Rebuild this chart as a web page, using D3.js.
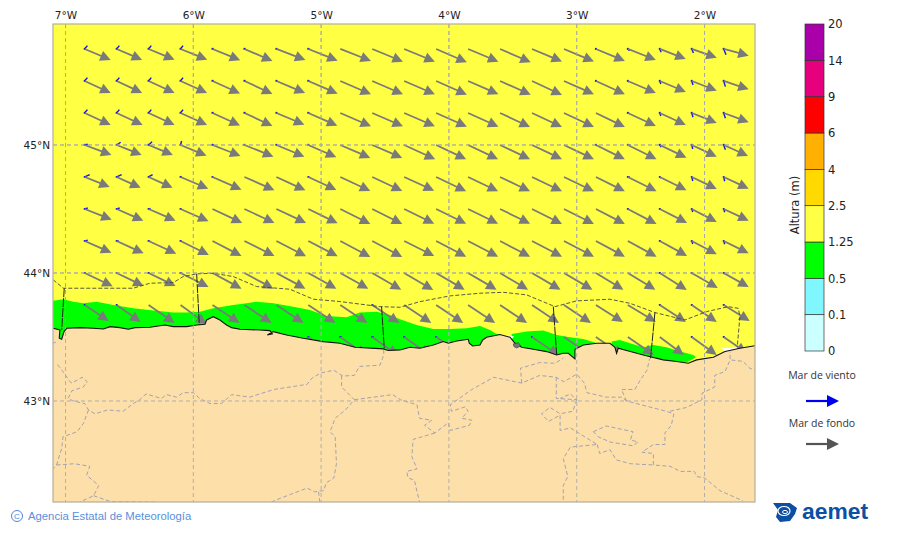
<!DOCTYPE html>
<html>
<head>
<meta charset="utf-8">
<script src="https://cdn.jsdelivr.net/npm/d3@7"></script>
<style>
	html, body { margin: 0; padding: 0; background: #fff; }
	svg { display: block; }
</style>
</head>
<body>
<div id="chart"></div>
<script>
// grid of the wave arrows
var lons = [-6.85,-6.6,-6.35,-6.1,-5.85,-5.6,-5.35,-5.1,-4.85,-4.6,-4.35,-4.1,-3.85,-3.6,-3.35,-3.1,-2.85,-2.6,-2.35,-2.1,-1.85];
var lats = [45.75,45.5,45.25,45,44.75,44.5,44.25,44,43.75,43.5];
var n = null;

// mar de fondo, east and south components per row
var swellU = [
	[2.6,2.55,2.6,2.67,2.77,2.8,2.9,2.93,3.07,3.07,3.07,3.07,3.03,3.07,3,3,2.9,2.8,2.6,2.5,2.5],
	[2.6,2.55,2.6,2.65,2.75,2.8,2.87,2.93,3.07,3.07,3.07,3.07,3.03,3.07,3,3,2.9,2.8,2.6,2.5,2.5],
	[2.6,2.6,2.6,2.65,2.75,2.8,2.8,2.9,3.07,3.07,3.07,3.07,3.03,3,3,3,2.9,2.8,2.6,2.5,2.5],
	[2.67,2.5,2.43,2.6,2.8,2.9,2.8,2.8,3,3,3.1,3,3,3,3,3,2.9,2.87,2.67,2.5,2.43],
	[2.5,2.4,2.4,2.77,2.9,3,2.9,2.8,3,3,3,3,3,3,3,3,2.9,2.87,2.67,2.5,2.5],
	[2.7,2.67,2.7,2.8,2.97,3,2.97,2.93,3,3,3,3,3,3,3,3,2.9,2.87,2.73,2.5,2.5],
	[2.67,2.7,2.77,2.83,2.9,3,2.97,2.93,3,3,3,3,3,3,3,3,2.9,2.87,2.73,2.5,2.5],
	[2.8,2.7,2.7,2.8,2.9,2.9,2.9,2.8,2.8,2.9,2.9,2.85,2.85,2.8,2.85,2.85,2.75,2.75,2.7,2.6,2.5],
	[2.4,2.4,2.6,2.6,2.7,2.7,2.7,2.7,2.7,2.7,2.7,2.7,2.7,2.7,2.7,2.7,2.7,2.8,2.6,2.5,2.6],
	[n,n,n,n,n,n,n,2.6,2.6,2.6,2.6,2.6,n,n,2.7,2.7,2.7,2.6,2.4,2.5,2.3]
];
var swellV = [
	[1.1,1.1,1.07,1.07,1.13,1.2,1.1,1.17,1.2,1.27,1.27,1.33,1.27,1.33,1.25,1.25,1.2,1.1,1,0.87,0.67],
	[1.2,1.2,1.2,1.2,1.25,1.3,1.2,1.27,1.33,1.33,1.33,1.37,1.33,1.37,1.4,1.33,1.33,1.2,1.1,0.97,0.83],
	[1.2,1.2,1.2,1.2,1.25,1.3,1.17,1.27,1.33,1.33,1.33,1.37,1.37,1.4,1.4,1.4,1.4,1.3,1.2,1,0.93],
	[1,1,1,1.07,1.1,1.17,1.17,1.23,1.3,1.3,1.43,1.43,1.43,1.43,1.43,1.43,1.43,1.43,1.27,1.17,1.1],
	[1,1.07,1.07,1.17,1.27,1.33,1.33,1.3,1.4,1.4,1.37,1.43,1.43,1.43,1.43,1.43,1.43,1.43,1.33,1.2,1.17],
	[1.07,1.17,1.17,1.23,1.4,1.4,1.4,1.43,1.5,1.5,1.47,1.47,1.47,1.47,1.5,1.5,1.5,1.5,1.4,1.3,1.17],
	[1.17,1.23,1.27,1.4,1.5,1.5,1.53,1.53,1.6,1.6,1.5,1.57,1.57,1.57,1.57,1.57,1.57,1.57,1.5,1.33,1.23],
	[1.33,1.3,1.3,1.4,1.57,1.57,1.57,1.57,1.57,1.67,1.7,1.67,1.67,1.67,1.67,1.67,1.67,1.67,1.7,1.5,1.4],
	[1.6,1.7,1.8,1.9,1.8,1.8,1.8,1.8,1.8,1.8,1.8,1.8,1.8,1.8,1.8,1.8,1.7,1.7,1.7,1.7,1.6],
	[n,n,n,n,n,n,n,1.85,1.85,1.85,1.85,1.85,n,n,1.85,1.85,1.85,1.8,1.8,1.8,1.6]
];

// mar de viento, same grid (mostly very small)
var windU = [
	[0.27,0.27,0.27,0.25,0.1,0.1,0.1,0.1,0,0,0,0,0,0,0,0,0.05,0.17,0.13,0.17,0.23],
	[0.27,0.27,0.27,0.25,0.1,0.1,0.1,0.1,0,0,0,0,0,0,0,0,0.1,0.13,0.1,0.13,0.17],
	[0.27,0.27,0.27,0.25,0.1,0.1,0.1,0.1,0,0,0,0,0,0,0,0,0,0.13,0.1,0.13,0.17],
	[0.3,0.4,0.35,0.1,0.07,0.05,0.05,0.05,0,0,0,0,0,0,0,0,0.05,0.27,0.13,0.1,0.17],
	[0.5,0.5,0.4,0.1,0.05,0,0,0.1,0,0,0,0,0,0,0,0,0,0.2,0.13,0.1,0.1],
	[0.3,0.3,0.2,0.1,0,0,0,0,0,0,0,0,0,0,0,0,0,0.1,0.1,0.1,0.1],
	[0.3,0.2,0.15,0.1,0,0,0,0,0,0,0,0,0,0,0,0,0,0,0.1,0.1,0.1],
	[0.1,0.1,0.1,0.1,0,0,0,0,0,0,0,0,0,0,0,0,0,0,0.1,0.1,0.15],
	[0.1,0.1,0,0,0,0,0,0,0,0.1,0,0,0,0,0,0,0,0,0.1,0.1,0.1],
	[0,0,0,0,0,0,0,0.1,0.15,0.15,0.1,0.1,0,0,0.05,0,0,0,0,0.1,0.1]
];
var windV = [
	[-0.33,-0.33,-0.33,-0.33,-0.05,-0.05,0,0,0,0,0,0,0,0,0,0,0.03,0.17,0.33,0.4,0.57],
	[-0.33,-0.33,-0.33,-0.33,-0.05,-0.05,0,0,0,0,0,0,0,0,0,0,0.03,0.1,0.3,0.4,0.57],
	[-0.33,-0.33,-0.33,-0.33,-0.05,-0.05,0,0,0,0,0,0,0,0,0,0,0,0.03,0.3,0.43,0.53],
	[-0.07,-0.27,-0.33,-0.4,-0.07,0,0,0,0,0,0,0,0,0,0,0,0,0.03,0.23,0.4,0.47],
	[-0.23,-0.23,-0.23,-0.05,0,0,0,0,0,0,0,0,0,0,0,0,0,0,0.1,0.4,0.43],
	[-0.1,-0.1,-0.05,0,0,0,0,0,0,0,0,0,0,0,0,0,0,0,0.05,0.3,0.33],
	[-0.07,-0.03,0,0,0,0,0,0,0,0,0,0,0,0,0,0,0,0,0.03,0.3,0.33],
	[0,0,0,0,0,0,0,0,0,0,0,0,0,0,0,0,0,0,0,0.1,0.1],
	[0,0,0,0,0,0,0,0,0,0,0,0,0,0,0,0,0,0,0,0,0],
	[0,0,0,0,0,0,0,0,0,0,0,0,0,0,0,0,0,0,0,0,0]
];

// colour bar
var levelLabels = ["0","0.1","0.5","1.25","2.5","4","6","9","14","20"];
var levelColors = ["#ccffff","#80f6ff","#00ff00","#ffff44","#ffd900","#ffb000","#ff0000","#e6007e","#aa00aa"];

var lonTicks = [-7,-6,-5,-4,-3,-2];
var latTicks = [45,44,43];

// coast, west to east
var coast = [[-7.098,43.568],[-7.044,43.555],[-7.049,43.49],[-7.03,43.482],[-7.012,43.542],[-6.991,43.568],[-6.887,43.573],[-6.783,43.568],[-6.704,43.563],[-6.652,43.581],[-6.574,43.573],[-6.509,43.56],[-6.457,43.573],[-6.339,43.576],[-6.222,43.594],[-6.157,43.581],[-6.052,43.581],[-5.974,43.594],[-5.909,43.599],[-5.896,43.633],[-5.844,43.659],[-5.792,43.633],[-5.74,43.594],[-5.7,43.573],[-5.635,43.56],[-5.479,43.555],[-5.401,43.55],[-5.382,43.524],[-5.421,43.516],[-5.374,43.542],[-5.27,43.516],[-5.14,43.49],[-4.983,43.464],[-4.853,43.451],[-4.735,43.42],[-4.514,43.407],[-4.475,43.394],[-4.383,43.399],[-4.305,43.42],[-4.227,43.412],[-4.122,43.438],[-4.044,43.464],[-4.005,43.451],[-3.94,43.469],[-3.848,43.482],[-3.841,43.451],[-3.814,43.43],[-3.757,43.438],[-3.736,43.477],[-3.705,43.498],[-3.601,43.519],[-3.522,43.498],[-3.483,43.451],[-3.431,43.42],[-3.34,43.404],[-3.235,43.386],[-3.157,43.36],[-3.105,43.373],[-3.066,43.373],[-3.014,43.329],[-3.014,43.404],[-2.949,43.438],[-2.844,43.451],[-2.74,43.451],[-2.701,43.42],[-2.688,43.373],[-2.675,43.412],[-2.61,43.394],[-2.479,43.36],[-2.323,43.321],[-2.219,43.308],[-2.127,43.295],[-2.062,43.321],[-1.931,43.342],[-1.84,43.386],[-1.723,43.412],[-1.618,43.43],[-1.605,43.432]];
var landCorners = [[-1.605,42.211],[-7.098,42.211]];

// 0.5 - 1.25 m patches along the coast
var greenWest = [[-7.098,43.784],[-7.017,43.795],[-6.939,43.776],[-6.861,43.763],[-6.757,43.776],[-6.626,43.75],[-6.47,43.724],[-6.313,43.706],[-6.157,43.691],[-6.052,43.691],[-5.948,43.698],[-5.844,43.724],[-5.687,43.75],[-5.583,43.763],[-5.505,43.776],[-5.374,43.763],[-5.218,43.737],[-5.088,43.711],[-4.957,43.664],[-4.801,43.654],[-4.696,43.691],[-4.566,43.698],[-4.462,43.672],[-4.383,43.638],[-4.253,43.594],[-4.122,43.563],[-3.992,43.563],[-3.861,43.568],[-3.757,43.586],[-3.679,43.555],[-3.627,43.524],[-3.601,43.519],[-3.62,43.35],[-7.098,43.35]];
var greenMid = [[-3.509,43.524],[-3.392,43.542],[-3.262,43.55],[-3.157,43.516],[-3.053,43.498],[-2.949,43.485],[-2.857,43.456],[-2.857,43.3],[-3.509,43.3]];
var greenEast = [[-2.727,43.464],[-2.662,43.477],[-2.583,43.451],[-2.479,43.42],[-2.401,43.438],[-2.297,43.42],[-2.219,43.394],[-2.088,43.36],[-2.067,43.342],[-2.14,43.3],[-2.727,43.3]];

// small spots without data
var gapA = [[-1.866,43.412],[-1.723,43.42],[-1.697,43.399],[-1.84,43.386]];
var gapB = [[-3.548,43.516],[-3.491,43.503],[-3.509,43.482]];
var ria = [[-3.496,43.446],[-3.457,43.456],[-3.439,43.43],[-3.47,43.414],[-3.491,43.425]];

// coastal zones, black dashes
var zoneOuter = [[-7.096,43.946],[-7.017,43.881],[-6.47,43.881],[-6.339,43.92],[-6.157,43.925],[-6.079,43.972],[-5.974,43.993],[-5.844,43.998],[-5.687,43.972],[-5.505,43.894],[-5.244,43.873],[-5.061,43.795],[-4.853,43.777],[-4.54,43.737],[-4.383,43.732],[-4.227,43.776],[-3.992,43.821],[-3.757,43.842],[-3.575,43.849],[-3.392,43.829],[-3.17,43.737],[-3.001,43.782],[-2.74,43.795],[-2.583,43.763],[-2.388,43.691],[-2.153,43.633],[-1.984,43.698],[-1.814,43.737],[-1.736,43.724],[-1.723,43.659],[-1.744,43.42]];
var zoneLimits = [
	[[-7.01,43.881],[-7.03,43.555]],
	[[-5.974,43.993],[-5.953,43.594]],
	[[-4.527,43.737],[-4.506,43.412]],
	[[-3.183,43.737],[-3.157,43.36]],
	[[-2.388,43.691],[-2.422,43.334]]
];

// province limits, grey dashes
var provinces = [
	[[-4.51,43.4],[-4.51,43.36],[-4.54,43.28],[-4.7,43.27],[-4.74,43.2],[-4.83,43.195],[-4.9,43.24],[-5,43.22],[-5.07,43.18],[-5.11,43.13],[-5.37,43.09],[-5.56,43.03],[-5.7,43.05],[-5.78,42.98],[-5.87,42.98],[-5.95,43.02],[-6,43.065],[-6.08,43.065],[-6.13,43.03],[-6.21,43.05],[-6.25,43.02],[-6.37,43.055],[-6.42,43.01],[-6.47,42.98],[-6.55,42.92],[-6.67,42.93],[-6.77,42.9],[-6.82,42.93],[-6.85,42.98],[-6.94,43],[-6.98,43.02],[-6.95,43.08],[-6.86,43.11],[-6.83,43.15],[-6.87,43.185],[-6.95,43.14],[-6.965,43.15],[-7.02,43.23],[-7.07,43.295]],
	[[-7.1,43.45],[-7.075,43.46]],
	[[-6.82,42.93],[-6.86,42.825],[-6.91,42.76],[-7.02,42.72],[-7.03,42.63],[-7.07,42.5],[-7.096,42.47]],
	[[-7.07,42.5],[-6.93,42.51],[-6.81,42.49],[-6.835,42.42],[-6.74,42.34],[-6.78,42.26],[-6.89,42.21]],
	[[-6.78,42.26],[-6.65,42.215],[-6.3,42.21]],
	[[-5.39,42.21],[-5.32,42.24],[-5.24,42.27],[-5.11,42.32],[-5.05,42.29],[-4.98,42.3],[-4.96,42.36],[-4.9,42.4],[-4.88,42.51],[-4.89,42.72],[-4.93,42.76],[-4.89,42.865],[-4.81,42.93],[-4.74,43.01],[-4.84,43.11],[-4.84,43.2]],
	[[-5.01,42.21],[-5.02,42.29]],
	[[-4.74,43.01],[-4.59,43.03],[-4.44,43.05],[-4.38,43.01],[-4.25,42.97],[-4.23,42.865],[-4.135,42.85],[-4.19,42.81],[-4.11,42.75],[-4.005,42.83],[-3.99,42.77],[-3.84,42.81],[-3.82,42.85],[-3.9,42.865],[-3.85,42.92],[-3.87,42.955],[-3.98,42.92],[-3.99,42.97],[-3.82,43.09],[-3.65,43.185],[-3.43,43.14],[-3.29,43.2],[-3.16,43.185],[-3.1,43.15],[-3,43.21],[-2.94,43.14],[-2.92,43.065],[-2.77,43.03],[-2.65,43.03],[-2.61,43],[-2.3,42.92],[-2.24,42.9],[-2.26,42.81],[-2.31,42.75],[-2.31,42.66],[-2.4,42.66],[-2.49,42.6],[-2.4,42.59],[-2.4,42.5],[-2.27,42.49],[-2.19,42.45],[-2.08,42.45],[-2.06,42.41],[-2,42.4],[-1.88,42.3],[-1.7,42.22]],
	[[-4.11,42.75],[-4.28,42.7],[-4.29,42.565],[-4.25,42.47],[-4.33,42.45],[-4.32,42.4],[-4.27,42.38],[-4.23,42.21]],
	[[-2.61,43],[-2.65,43.09],[-2.545,43.09],[-2.505,43.16],[-2.45,43.24],[-2.43,43.33]],
	[[-2.27,42.92],[-2.14,42.95],[-2.02,43.01],[-2.02,43.06],[-1.92,43.11],[-1.92,43.2],[-1.84,43.23],[-1.8,43.32],[-1.8,43.386]],
	[[-1.79,43.32],[-1.7,43.31],[-1.645,43.256],[-1.6,43.24]],
	[[-3.43,43.14],[-3.44,43.256],[-3.29,43.3],[-3.17,43.295],[-3.105,43.334]],
	[[-3.16,43.185],[-3.16,43.02],[-3,43.01],[-3.05,43.055],[-3.13,43.02]],
	[[-3,43.01],[-3.03,42.92],[-3.13,42.9],[-3.21,42.95],[-3.275,42.9],[-3.22,42.84],[-3.13,42.89],[-3.13,42.77],[-3.05,42.79],[-2.84,42.66],[-3.05,42.64],[-3.105,42.55],[-3.07,42.41],[-3.105,42.34],[-3.105,42.21]],
	[[-2.84,42.66],[-2.82,42.59],[-2.74,42.62],[-2.69,42.54],[-2.58,42.51],[-2.4,42.5]],
	[[-2.87,42.76],[-2.77,42.805],[-2.56,42.76],[-2.58,42.695],[-2.52,42.68],[-2.56,42.65],[-2.74,42.68],[-2.83,42.72],[-2.87,42.76]]
];

var plot = {left: 53, right: 755, top: 24, bottom: 502};
var svg = d3.select("#chart").append("svg").attr("width", 900).attr("height", 533);

var x = d3.scaleLinear().domain([-7.098, -1.605]).range([plot.left, plot.right]);
var y = d3.scaleLinear().domain([42.211, 45.945]).range([plot.bottom, plot.top]);
var arrowLen = d3.scaleLinear().domain([0, 1]).range([0, 10]);
var geoLine = d3.line().x(function(d) { return x(d[0]); }).y(function(d) { return y(d[1]); });

svg.append("clipPath").attr("id", "map-clip").append("rect")
	.attr("x", plot.left).attr("y", plot.top)
	.attr("width", plot.right - plot.left).attr("height", plot.bottom - plot.top);

var map = svg.append("g").attr("clip-path", "url(#map-clip)");

map.append("rect")
	.attr("x", plot.left).attr("y", plot.top)
	.attr("width", plot.right - plot.left).attr("height", plot.bottom - plot.top)
	.attr("fill", levelColors[3]);

[greenWest, greenMid, greenEast].forEach(function(p) {
	map.append("path").attr("d", geoLine(p) + "Z").attr("fill", levelColors[2]);
});
[gapA, gapB].forEach(function(p) {
	map.append("path").attr("d", geoLine(p) + "Z").attr("fill", "#fff");
});

// graticule stays under the arrows
var graticule = map.append("g");
graticule.selectAll(".glat").data(latTicks).enter().append("line").attr("class", "glat")
	.attr("y1", y).attr("y2", y).attr("x1", plot.left).attr("x2", plot.right);

// flat list of grid cells for the arrows
var cells = [];
lats.forEach(function(lat, r) {
	lons.forEach(function(lon, c) {
		cells.push({lon: lon, lat: lat, su: swellU[r][c], sv: swellV[r][c], wu: windU[r][c], wv: windV[r][c]});
	});
});

var grey = "#7a7a7a", blue = "#1414e6";

function drawArrow(g, len, color, width, head) {
	g.append("line").attr("x1", 0).attr("y1", 0).attr("x2", len - head + 1).attr("y2", 0)
		.attr("stroke", color).attr("stroke-width", width);
	g.append("path")
		.attr("d", "M" + len + ",0L" + (len - head) + "," + (-head / 2) + "L" + (len - head) + "," + (head / 2) + "Z")
		.attr("fill", color);
}

var windMarks = map.append("g").selectAll("g")
	.data(cells.filter(function(d) { return d.wu || d.wv; }))
	.enter().append("g")
	.attr("transform", function(d) { return "translate(" + x(d.lon) + "," + y(d.lat) + ")"; });
windMarks.append("line")
	.attr("x2", function(d) { return arrowLen(d.wu); })
	.attr("y2", function(d) { return arrowLen(d.wv); })
	.attr("stroke", blue).attr("stroke-width", 1.4);
windMarks.append("circle").attr("r", 1.1).attr("fill", blue);

map.append("g").selectAll("g")
	.data(cells.filter(function(d) { return d.su !== null; }))
	.enter().append("g")
	.attr("transform", function(d) {
		var a = Math.atan2(arrowLen(d.sv), arrowLen(d.su)) * 180 / Math.PI;
		return "translate(" + x(d.lon) + "," + y(d.lat) + ") rotate(" + a + ")";
	})
	.each(function(d) {
		drawArrow(d3.select(this), Math.hypot(arrowLen(d.su), arrowLen(d.sv)), grey, 1.8, 10.5);
	});

// land goes over the arrows
map.append("path").attr("d", geoLine(coast.concat(landCorners)) + "Z").attr("fill", "#fddfa9");
map.append("path").attr("d", geoLine(coast)).attr("fill", "none").attr("stroke", "#111").attr("stroke-width", 1.1);
map.append("path").attr("d", geoLine(ria) + "Z").attr("fill", "#777").attr("stroke", "#333").attr("stroke-width", 0.6);

map.selectAll(".prov").data(provinces).enter().append("path").attr("class", "prov")
	.attr("d", geoLine).attr("fill", "none")
	.attr("stroke", "#9a9ab0").attr("stroke-width", 0.9).attr("stroke-dasharray", "4,2.5");

map.append("path").attr("d", geoLine(zoneOuter)).attr("fill", "none")
	.attr("stroke", "#444").attr("stroke-width", 0.9).attr("stroke-dasharray", "4,2");
map.selectAll(".zone").data(zoneLimits).enter().append("path").attr("class", "zone")
	.attr("d", geoLine).attr("fill", "none")
	.attr("stroke", "#222").attr("stroke-width", 1).attr("stroke-dasharray", "9,1");

graticule.selectAll(".glon").data(lonTicks).enter().append("line").attr("class", "glon")
	.attr("x1", x).attr("x2", x).attr("y1", plot.top).attr("y2", plot.bottom);
graticule.selectAll("line").attr("stroke", "#aaa").attr("stroke-width", 0.9).attr("stroke-dasharray", "4,3");

// the same lines again over the land, where they are seen most
map.append("g").selectAll("line").data(latTicks).enter().append("line")
	.attr("y1", y).attr("y2", y).attr("x1", plot.left).attr("x2", plot.right)
	.attr("stroke", "#aaa").attr("stroke-width", 0.9).attr("stroke-dasharray", "4,3");
map.append("g").selectAll("line").data(lonTicks).enter().append("line")
	.attr("x1", x).attr("x2", x).attr("y1", plot.top).attr("y2", plot.bottom)
	.attr("stroke", "#aaa").attr("stroke-width", 0.9).attr("stroke-dasharray", "4,3");

svg.append("rect")
	.attr("x", plot.left).attr("y", plot.top)
	.attr("width", plot.right - plot.left).attr("height", plot.bottom - plot.top)
	.attr("fill", "none").attr("stroke", "#b5b09a").attr("stroke-width", 1.2);

// axes
var topAxis = d3.axisTop(x).tickValues(lonTicks).tickSize(0).tickPadding(5)
	.tickFormat(function(d) { return Math.abs(d) + "°W"; });
var leftAxis = d3.axisLeft(y).tickValues(latTicks).tickSize(0).tickPadding(3)
	.tickFormat(function(d) { return d + "°N"; });
svg.append("g").attr("transform", "translate(0," + plot.top + ")").call(topAxis);
svg.append("g").attr("transform", "translate(" + plot.left + ",0)").call(leftAxis);
svg.selectAll(".domain").remove();
svg.selectAll(".tick text").attr("font-family", "DejaVu Sans").attr("font-size", 10.5).attr("fill", "#222");

// colour bar
var barY = d3.scaleLinear().domain([0, levelColors.length]).range([351, 24]);
var barX = 805, barW = 19;
svg.append("g").selectAll("rect").data(levelColors).enter().append("rect")
	.attr("x", barX).attr("width", barW)
	.attr("y", function(d, i) { return barY(i + 1); })
	.attr("height", function(d, i) { return barY(i) - barY(i + 1); })
	.attr("fill", function(d) { return d; })
	.attr("stroke", "#333").attr("stroke-width", 0.7);
var barAxis = d3.axisRight(barY).tickValues(d3.range(levelLabels.length)).tickSize(0).tickPadding(4)
	.tickFormat(function(d) { return levelLabels[d]; });
var barG = svg.append("g").attr("transform", "translate(" + (barX + barW) + ",0)").call(barAxis);
barG.select(".domain").remove();
barG.selectAll("text").attr("font-family", "DejaVu Sans").attr("font-size", 11.5).attr("fill", "#222");

svg.append("text").attr("transform", "translate(799,205) rotate(-90)")
	.attr("text-anchor", "middle").attr("font-family", "DejaVu Sans").attr("font-size", 11.5).attr("fill", "#222")
	.text("Altura (m)");

// arrow legend
var legendLabels = ["Mar de viento", "Mar de fondo"];
var legendColors = ["#0000f0", "#555555"];
var legendLabelY = d3.scaleOrdinal().domain(legendLabels).range([379, 427]);
var legendArrowY = d3.scaleOrdinal().domain(legendLabels).range([401, 444]);
legendLabels.forEach(function(name, i) {
	svg.append("text").attr("x", 822).attr("y", legendLabelY(name)).attr("text-anchor", "middle")
		.attr("font-family", "Open Sans").attr("font-size", 10.5).attr("fill", "#333").text(name);
	drawArrow(svg.append("g").attr("transform", "translate(806," + legendArrowY(name) + ")"), 33, legendColors[i], 2.2, 12);
});

// footer
svg.append("circle").attr("cx", 17).attr("cy", 516).attr("r", 5.5)
	.attr("fill", "none").attr("stroke", "#4f86d8").attr("stroke-width", 1);
svg.append("text").attr("x", 17).attr("y", 519).attr("text-anchor", "middle")
	.attr("font-family", "Liberation Sans").attr("font-size", 8).attr("fill", "#4f86d8").text("C");
svg.append("text").attr("x", 28).attr("y", 520)
	.attr("font-family", "Liberation Sans").attr("font-size", 11.3).attr("fill", "#5b8fdc")
	.text("Agencia Estatal de Meteorología");

var logo = svg.append("g");
logo.append("path").attr("d", "M773,503L790,503L797,508L795,514L790,521L780,522L776,517L778,510Z").attr("fill", "#0d4fa3");
logo.append("ellipse").attr("cx", 784).attr("cy", 511).attr("rx", 6).attr("ry", 4.5)
	.attr("fill", "none").attr("stroke", "#fff").attr("stroke-width", 1.2);
logo.append("ellipse").attr("cx", 785).attr("cy", 512).attr("rx", 2.5).attr("ry", 1.6)
	.attr("fill", "none").attr("stroke", "#fff").attr("stroke-width", 1);
svg.append("text").attr("x", 802).attr("y", 519).attr("textLength", 66).attr("lengthAdjust", "spacingAndGlyphs")
	.attr("font-family", "Liberation Sans").attr("font-weight", "bold").attr("font-size", 22).attr("fill", "#0d4fa3")
	.text("aemet");
</script>
</body>
</html>
